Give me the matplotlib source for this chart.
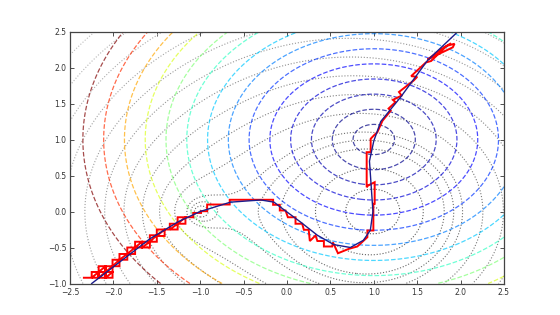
import numpy as np
import matplotlib
matplotlib.use("Agg")
import matplotlib.pyplot as plt

# ---- data ----
# grey dotted objective: weighted product of distances to two minima
f_min_x = [-1.0, 1.0]
f_min_y = [0.0, 0.0]
f_weights = [0.2, 0.8]
f_levels = [0.12, 0.45, 0.77, 1.04, 1.16, 1.27, 1.52, 1.77, 2.02, 2.27,
            2.52, 2.77, 3.02, 3.27, 3.52, 3.77, 4.02]

# coloured dashed function: squared elliptic distance to (1, 1)
g_center = [1.0, 1.0]
g_xscale = 1.14
g_levels = [0.044, 0.176, 0.397, 0.706, 1.103, 1.588, 2.161, 2.822, 3.572,
            4.410, 5.336, 6.350, 7.453, 8.644]

# exact curve (blue)
curve_x = [-2.25, -1.58, -1.25, -1.0, -0.65, -0.30, -0.15, -0.075, 0.16, 0.35,
           0.54, 0.73, 0.88, 0.96, 0.99, 0.97, 0.95, 1.0, 1.08, 1.31, 1.62, 1.97]
curve_y = [-1.0, -0.38, -0.14, 0.0, 0.13, 0.16, 0.13, 0.06, -0.15, -0.33,
           -0.46, -0.50, -0.40, -0.26, 0.0, 0.35, 0.70, 0.98, 1.25, 1.59, 2.10, 2.50]

# piecewise-linear approximation (red): boxes with diagonals ...
box_x0 = [-2.25, -2.17, -2.09, -2.17, -2.09, -2.01, -1.93, -1.84, -1.75, -1.67,
          -1.58, -1.50, -1.35, -1.26]
box_x1 = [-2.17, -2.09, -2.01, -2.09, -2.01, -1.93, -1.84, -1.75, -1.67, -1.58,
          -1.50, -1.41, -1.26, -1.17]
box_y0 = [-0.92, -0.92, -0.92, -0.84, -0.84, -0.76, -0.67, -0.59, -0.50, -0.50,
          -0.42, -0.34, -0.25, -0.17]
box_y1 = [-0.84, -0.84, -0.84, -0.76, -0.76, -0.67, -0.59, -0.50, -0.42, -0.42,
          -0.33, -0.25, -0.17, -0.08]
lead_x = [-2.34, -2.25]
lead_y = [-0.92, -0.92]
# ... followed by a staircase
step_x = [-1.17, -1.08, -1.08, -0.99, -0.99, -0.92, -0.92, -0.66, -0.66, -0.16,
          -0.16, -0.083, -0.083, -0.017, 0.01, 0.098, 0.098, 0.175, 0.194, 0.25,
          0.263, 0.329, 0.35, 0.425, 0.425, 0.52, 0.53, 0.587, 0.714, 0.81,
          0.926, 0.926, 0.995, 0.995, 1.01, 1.01, 0.933, 0.918, 0.918, 0.964,
          0.964, 1.0, 1.04, 1.10, 1.195, 1.17, 1.25, 1.22, 1.32, 1.29,
          1.46, 1.50, 1.43, 1.60, 1.66, 1.84, 1.93, 1.91, 1.70, 1.62, 1.77, 1.88]
step_y = [-0.08, -0.08, -0.02, -0.02, 0.004, 0.004, 0.097, 0.097, 0.163, 0.163,
          0.093, 0.093, 0.014, 0.014, -0.08, -0.08, -0.17, -0.17, -0.254, -0.254,
          -0.41, -0.333, -0.41, -0.41, -0.486, -0.486, -0.43, -0.58, -0.518, -0.486,
          -0.357, -0.264, -0.264, 0.107, 0.107, 0.407, 0.36, 0.337, 0.824, 0.824,
          1.01, 1.056, 1.10, 1.26, 1.40, 1.43, 1.52, 1.55, 1.61, 1.66,
          1.82, 1.87, 1.88, 2.07, 2.09, 2.30, 2.33, 2.28, 2.16, 2.11, 2.25, 2.33]

x_ticks = [-2.5, -2.0, -1.5, -1.0, -0.5, 0.0, 0.5, 1.0, 1.5, 2.0, 2.5]
y_ticks = [-1.0, -0.5, 0.0, 0.5, 1.0, 1.5, 2.0, 2.5]

# ---- figure ----
fig = plt.figure(figsize=(5.6, 3.15), dpi=100)
ax = fig.add_axes([0.125, 0.1, 0.775, 0.8])

X, Y = np.meshgrid(np.linspace(-2.5, 2.5, 400), np.linspace(-1.0, 2.5, 300))
F = np.ones_like(X)
for cx, cy, w in zip(f_min_x, f_min_y, f_weights):
    F = F * ((X - cx) ** 2 + (Y - cy) ** 2 + 1e-6) ** (w / 2)
G = ((X - g_center[0]) / g_xscale) ** 2 + (Y - g_center[1]) ** 2

ax.contour(X, Y, F, levels=f_levels, cmap="gray", vmin=-2.5, vmax=6.0,
           linestyles=":", linewidths=0.8)
ax.contour(X, Y, G, levels=g_levels, cmap="jet", linestyles="--",
           linewidths=0.9, alpha=0.7)

# red PL path
px, py = list(lead_x), list(lead_y)
for x0, x1, y0, y1 in zip(box_x0, box_x1, box_y0, box_y1):
    px += [x0, x1, x1, x0, x0, x1]
    py += [y0, y0, y1, y1, y0, y1]
px += step_x
py += step_y
ax.plot(px, py, color="red", lw=1.4, solid_joinstyle="miter")
ax.plot(curve_x, curve_y, color="#1c1c8c", lw=1.0)

ax.set_xlim(-2.5, 2.5)
ax.set_ylim(-1.0, 2.5)
ax.set_xticks(x_ticks)
ax.set_yticks(y_ticks)
ax.tick_params(direction="in", top=True, right=True, labelsize=5.5,
               length=3, width=0.6, colors="#333333")
ax.tick_params(axis="x", pad=3.5)
ax.tick_params(axis="y", pad=2.5)
for s in ax.spines.values():
    s.set_color("#444444")
    s.set_linewidth(0.9)

fig.savefig("out.png", dpi=100)
